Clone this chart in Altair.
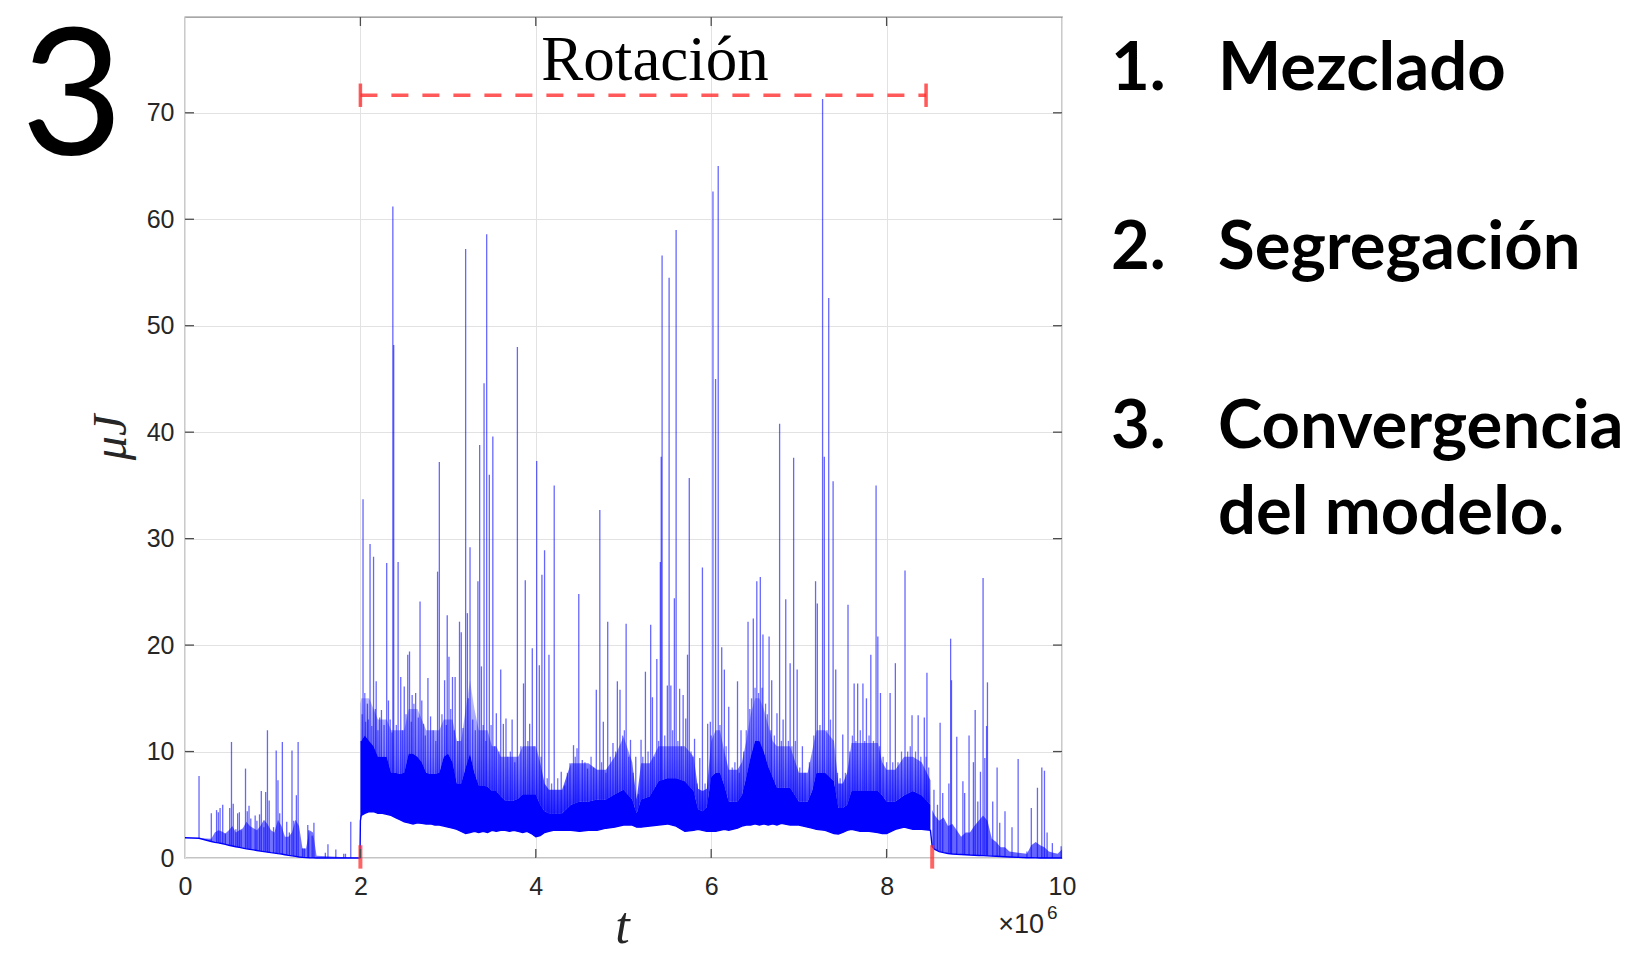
import altair as alt
import numpy as np
import pandas as pd

# ---------------- data (t in units of 10^6) ----------------
x_ticks = [0, 2, 4, 6, 8, 10]
y_ticks = [0, 10, 20, 30, 40, 50, 60, 70]

# before rotation: lower baseline and top of the dense small-line region
p1_t = [0.00, 0.16, 0.30, 0.34, 0.38, 0.42, 0.46, 0.50, 0.54, 0.58, 0.62, 0.66, 0.70, 0.74, 0.78, 0.82, 0.86,
        0.90, 0.94, 0.98, 1.02, 1.06, 1.10, 1.14, 1.18, 1.22, 1.26, 1.30, 1.34, 1.38, 1.42, 1.46, 1.50, 1.995]
p1_lo = [1.90, 1.85, 1.55, 1.47, 1.42, 1.36, 1.28, 1.20, 1.13, 1.06, 1.00, 0.93, 0.86, 0.81, 0.76, 0.70, 0.65,
         0.60, 0.55, 0.50, 0.46, 0.41, 0.37, 0.31, 0.25, 0.20, 0.15, 0.10, 0.06, 0.04, 0.02, 0.01, 0.00, 0.00]
p1_top = [1.90, 1.85, 1.80, 2.4, 2.6, 2.5, 2.3, 2.6, 3.0, 2.4, 2.6, 2.8, 3.4, 3.0, 2.8, 2.6, 3.0,
          3.6, 3.2, 2.6, 2.4, 3.6, 3.0, 2.0, 2.0, 2.4, 3.6, 3.0, 0.9, 0.9, 2.6, 2.4, 0.2, 0.0]

# rotation: lower envelope, top of the solid core and of the dense fuzzy band
band_t = [2.00, 2.01, 2.05, 2.10, 2.15, 2.20, 2.25, 2.30, 2.35, 2.40,
          2.45, 2.50, 2.55, 2.60, 2.65, 2.70, 2.75, 2.80, 2.85, 2.90,
          2.95, 3.00, 3.05, 3.10, 3.15, 3.20, 3.25, 3.30, 3.35, 3.40,
          3.45, 3.50, 3.55, 3.60, 3.65, 3.70, 3.75, 3.80, 3.85, 3.90,
          3.95, 4.00, 4.05, 4.10, 4.15, 4.20, 4.30, 4.40, 4.50, 4.60,
          4.70, 4.80, 4.90, 5.00, 5.10, 5.15, 5.20, 5.30, 5.40, 5.50,
          5.60, 5.70, 5.80, 5.85, 5.90, 5.95, 6.00, 6.05, 6.10, 6.15,
          6.20, 6.30, 6.35, 6.40, 6.45, 6.50, 6.55, 6.60, 6.65, 6.70,
          6.75, 6.80, 6.90, 7.00, 7.10, 7.15, 7.20, 7.30, 7.40, 7.45,
          7.50, 7.55, 7.60, 7.70, 7.80, 7.90, 7.95, 8.00, 8.10, 8.20,
          8.30, 8.40, 8.50]
band_lo = [3.5, 4.0, 4.2, 4.35, 4.35, 4.2, 4.2, 4.1, 4.0, 3.8,
           3.6, 3.4, 3.3, 3.2, 3.3, 3.25, 3.2, 3.2, 3.1, 3.1,
           3.0, 2.9, 2.8, 2.7, 2.5, 2.3, 2.4, 2.5, 2.4, 2.5,
           2.4, 2.6, 2.5, 2.6, 2.6, 2.5, 2.6, 2.5, 2.4, 2.5,
           2.3, 2.0, 2.1, 2.4, 2.5, 2.6, 2.6, 2.6, 2.5, 2.6,
           2.6, 2.8, 2.9, 3.1, 3.1, 2.9, 2.9, 3.0, 3.1, 3.2,
           3.0, 2.5, 2.6, 2.7, 2.6, 2.5, 2.5, 2.5, 2.6, 2.7,
           2.6, 2.8, 3.0, 3.1, 3.1, 3.2, 3.1, 3.2, 3.1, 3.2,
           3.1, 3.25, 3.1, 3.1, 2.9, 2.8, 2.7, 2.6, 2.3, 2.25,
           2.4, 2.6, 2.7, 2.5, 2.5, 2.4, 2.3, 2.3, 2.7, 2.9,
           2.7, 2.7, 2.6]
band_core = [11.0, 11.0, 11.5, 11.0, 10.5, 9.5, 9.5, 9.5, 8.0, 8.0,
             7.9, 8.0, 9.8, 9.8, 9.5, 9.0, 8.0, 7.9, 7.9, 8.0,
             9.5, 9.8, 9.0, 7.0, 7.0, 8.5, 9.8, 8.0, 6.8, 6.8,
             6.7, 6.3, 6.3, 5.8, 5.4, 5.4, 5.4, 5.6, 6.0, 6.0,
             6.0, 6.0, 5.0, 4.4, 4.2, 4.2, 4.2, 5.0, 5.3, 5.3,
             5.5, 5.5, 6.0, 6.4, 5.5, 4.2, 5.5, 5.8, 7.2, 7.5,
             7.5, 7.2, 6.3, 4.6, 4.4, 4.8, 7.6, 8.0, 8.0, 6.8,
             5.3, 5.3, 5.9, 7.6, 9.5, 11.0, 11.0, 10.0, 8.6, 7.6,
             6.6, 6.6, 6.6, 5.3, 5.3, 6.3, 8.0, 8.0, 7.2, 4.7,
             4.7, 5.0, 6.3, 6.3, 6.3, 6.3, 5.9, 5.3, 5.3, 5.9,
             6.3, 5.9, 5.0]
band_fuzz = [14.5, 15.0, 15.0, 15.0, 14.0, 13.0, 13.0, 13.0, 12.0, 12.0,
             12.0, 12.0, 14.0, 14.0, 14.0, 13.0, 12.0, 12.0, 12.0, 12.0,
             13.0, 13.0, 13.0, 11.0, 11.0, 14.0, 16.7, 14.0, 12.0, 12.0,
             12.0, 10.5, 10.5, 9.5, 9.5, 9.5, 9.5, 9.5, 10.5, 10.5,
             10.5, 10.5, 9.0, 7.0, 6.4, 6.4, 6.4, 8.9, 8.9, 8.9,
             8.3, 8.3, 9.5, 11.4, 9.0, 5.5, 8.9, 8.9, 10.5, 10.5,
             10.5, 10.5, 9.5, 6.5, 6.3, 6.5, 11.0, 12.0, 12.0, 10.0,
             8.3, 8.3, 9.0, 11.0, 13.5, 15.0, 15.0, 14.0, 12.5, 11.0,
             10.5, 10.5, 10.5, 8.0, 8.0, 10.0, 12.0, 12.0, 11.0, 7.0,
             7.0, 8.0, 10.8, 10.8, 10.8, 10.8, 9.0, 8.3, 8.3, 9.5,
             9.5, 9.0, 7.3]

# after rotation: decaying baseline and top of the dense small-line region
p3_t = [8.52, 8.55, 8.60, 8.65, 8.70, 8.75, 8.80, 8.85, 8.90, 8.95, 9.00, 9.05, 9.10, 9.15, 9.20,
        9.25, 9.30, 9.35, 9.40, 9.50, 9.60, 9.65, 9.70, 9.75, 9.80, 9.85, 9.90, 9.95, 10.0]
p3_lo = [1.06, 0.80, 0.60, 0.50, 0.42, 0.38, 0.35, 0.33, 0.31, 0.28, 0.26, 0.24, 0.22, 0.20, 0.18,
         0.16, 0.14, 0.12, 0.10, 0.06, 0.03, 0.02, 0.01, 0.0, 0.0, 0.0, 0.0, 0.0, 0.0]
p3_top = [4.5, 4.0, 3.5, 3.8, 3.0, 3.2, 2.6, 2.0, 2.4, 2.4, 3.0, 3.5, 4.0, 3.5, 1.8,
          1.5, 1.0, 1.0, 0.6, 0.5, 0.4, 1.2, 1.5, 1.2, 1.0, 0.6, 0.5, 0.4, 0.8]

# individual spikes (time, peak value)
sp1_t = [0.16, 0.30, 0.36, 0.38, 0.40, 0.43, 0.46, 0.51, 0.53, 0.55, 0.58, 0.60, 0.62, 0.64, 0.69,
         0.71, 0.73, 0.75, 0.80, 0.82, 0.85, 0.87, 0.90, 0.92, 0.94, 0.96, 1.01, 1.04, 1.06, 1.08,
         1.11, 1.16, 1.19, 1.22, 1.24, 1.27, 1.29, 1.34, 1.36, 1.40, 1.41, 1.45, 1.47, 1.60, 1.63,
         1.72, 1.81, 1.83, 1.89]
sp1_h = [7.7, 4.2, 4.5, 4.3, 4.7, 5.0, 2.3, 4.7, 10.9, 5.1, 2.7, 4.2, 4.3, 2.6, 8.4,
         4.4, 4.9, 3.7, 4.0, 3.5, 4.1, 6.3, 2.9, 6.2, 12.0, 5.4, 2.9, 10.1, 7.3, 4.2,
         10.9, 3.4, 2.4, 10.1, 3.5, 5.9, 10.9, 0.9, 0.9, 3.1, 2.6, 2.1, 3.3, 0.5, 1.3,
         0.8, 0.4, 0.4, 3.4]
sp2_t = [2.03, 2.08, 2.11, 2.15, 2.18, 2.24, 2.30, 2.32, 2.37, 2.38,
         2.43, 2.46, 2.50, 2.54, 2.56, 2.59, 2.63, 2.68, 2.70, 2.77,
         2.80, 2.88, 2.90, 2.96, 2.99, 3.01, 3.05, 3.08, 3.13, 3.15,
         3.20, 3.22, 3.25, 3.34, 3.36, 3.38, 3.41, 3.44, 3.47, 3.51,
         3.55, 3.60, 3.63, 3.66, 3.73, 3.79, 3.86, 3.88, 3.93, 3.96,
         4.01, 4.04, 4.07, 4.10, 4.15, 4.21, 4.29, 4.39, 4.43, 4.47,
         4.49, 4.53, 4.59, 4.69, 4.73, 4.77, 4.82, 4.88, 4.93, 4.96,
         5.03, 5.08, 5.14, 5.20, 5.25, 5.31, 5.33, 5.38, 5.42, 5.43, 5.44,
         5.50, 5.52, 5.54, 5.58, 5.60, 5.64, 5.68, 5.71, 5.73, 5.75,
         5.81, 5.87, 5.90, 5.96, 5.99, 6.02, 6.05, 6.08, 6.12, 6.15,
         6.20, 6.30, 6.34, 6.42, 6.48, 6.52, 6.56, 6.59, 6.66, 6.69,
         6.75, 6.78, 6.82, 6.85, 6.90, 6.94, 6.98, 7.04, 7.19, 7.21,
         7.27, 7.29, 7.34, 7.39, 7.42, 7.50, 7.56, 7.63, 7.67, 7.73,
         7.77, 7.82, 7.88, 7.90, 7.93, 8.04, 8.10, 8.21, 8.29, 8.36,
         8.43, 8.46]
sp2_h = [33.7, 14.5, 29.5, 28.3, 16.6, 13.9, 27.7, 14.8, 61.2, 48.2,
         27.8, 17.0, 16.1, 19.1, 19.4, 15.3, 15.5, 24.1, 14.8, 16.9,
         13.3, 26.9, 37.2, 16.7, 22.8, 18.9, 17.0, 17.0, 22.2, 21.2,
         57.2, 23.0, 29.2, 26.0, 38.8, 18.0, 44.6, 58.6, 36.0, 39.6,
         13.6, 17.7, 12.6, 13.1, 13.0, 48.0, 16.4, 26.1, 12.6, 19.7,
         37.3, 18.1, 26.6, 28.9, 19.1, 35.0, 8.1, 8.9, 10.6, 10.3,
         24.8, 9.2, 8.4, 15.8, 32.7, 12.8, 22.2, 10.8, 16.6, 15.8,
         22.0, 11.1, 9.5, 11.1, 17.5, 21.9, 15.1, 18.7, 27.8, 37.7, 56.6,
         16.2, 54.5, 16.2, 24.4, 59.0, 15.9, 15.3, 13.1, 19.1, 35.7,
         11.2, 9.4, 27.3, 12.6, 12.8, 62.6, 45.0, 65.0, 19.8, 17.7,
         14.2, 16.6, 12.0, 22.2, 22.5, 26.0, 26.4, 21.0, 20.8, 16.7,
         13.6, 40.8, 13.0, 24.3, 18.3, 37.6, 17.7, 10.5, 26.0, 23.9,
         71.3, 37.7, 52.6, 35.4, 17.7, 11.6, 23.8, 16.4, 16.4, 16.4,
         15.0, 19.1, 35.0, 20.8, 15.5, 15.5, 18.3, 27.0, 13.4, 13.4,
         13.2, 17.4]
# shorter lines forming the ragged top of the dense band
sm_t = [2.02, 2.05, 2.06, 2.09, 2.13, 2.17, 2.20, 2.22, 2.27, 2.34, 2.36, 2.41, 2.48, 2.52, 2.58,
        2.61, 2.66, 2.72, 2.74, 2.83, 2.86, 2.93, 2.98, 3.03, 3.07, 3.11, 3.17, 3.23, 3.28, 3.31,
        3.40, 3.43, 3.49, 3.53, 3.58, 3.68, 3.71, 3.76, 3.83, 3.91, 3.98, 4.06, 4.13, 4.18, 4.25,
        4.33, 4.36, 4.45, 4.56, 4.63, 4.66, 4.75, 4.80, 4.85, 4.91, 4.99, 5.01, 5.06, 5.11, 5.17,
        5.22, 5.28, 5.35, 5.40, 5.47, 5.56, 5.62, 5.66, 5.77, 5.79, 5.84, 5.93, 6.00, 6.10, 6.17,
        6.24, 6.27, 6.32, 6.37, 6.40, 6.44, 6.46, 6.50, 6.54, 6.58, 6.62, 6.64, 6.68, 6.72, 6.80,
        6.88, 6.92, 6.96, 7.01, 7.07, 7.12, 7.17, 7.24, 7.32, 7.36, 7.44, 7.47, 7.53, 7.58, 7.61,
        7.65, 7.70, 7.75, 7.80, 7.85, 7.92, 7.96, 8.00, 8.07, 8.13, 8.17, 8.24, 8.27, 8.33, 8.39,
        8.45, 8.48]
sm_h = [13.5, 15.5, 12.8, 13.0, 12.4, 14.0, 12.0, 13.2, 12.5, 13.0, 11.8, 12.5, 12.0, 13.5, 12.8,
        14.5, 13.2, 12.6, 11.5, 12.0, 11.0, 13.5, 12.5, 14.0, 12.0, 11.0, 12.2, 15.0, 13.0, 12.0,
        12.5, 11.0, 12.5, 10.5, 10.0, 9.5, 10.0, 9.0, 10.5, 11.0, 10.5, 9.5, 7.5, 7.0, 7.5,
        6.8, 8.0, 9.5, 9.0, 9.5, 8.5, 9.0, 8.0, 9.5, 10.0, 11.5, 12.0, 9.5, 8.0, 6.0,
        9.5, 10.0, 9.5, 11.0, 11.5, 12.0, 11.0, 10.5, 10.0, 9.5, 7.0, 7.0, 11.5, 12.5, 10.5,
        8.5, 9.0, 8.0, 10.0, 12.0, 14.0, 15.0, 16.0, 15.5, 16.0, 14.5, 13.5, 12.0, 11.5, 11.0,
        11.0, 10.5, 11.0, 8.5, 8.0, 9.0, 11.5, 12.5, 12.0, 13.0, 8.0, 7.5, 8.0, 10.0, 11.5,
        11.0, 12.0, 11.0, 11.5, 11.0, 10.5, 9.5, 9.0, 9.0, 9.0, 10.0, 10.0, 10.5, 10.0, 9.5,
        9.5, 8.5]
sp3_t = [8.54, 8.58, 8.61, 8.64, 8.71, 8.73, 8.74, 8.80, 8.87, 8.89, 8.94, 8.99, 9.01, 9.04, 9.07,
         9.10, 9.12, 9.14, 9.15, 9.21, 9.26, 9.29, 9.35, 9.43, 9.50, 9.60, 9.65, 9.72, 9.77, 9.80,
         9.83, 9.89, 9.99]
sp3_h = [6.4, 5.0, 12.7, 6.1, 7.0, 20.6, 16.7, 11.4, 7.2, 6.1, 11.5, 9.0, 13.9, 5.3, 8.1,
         26.3, 9.4, 12.4, 16.5, 5.3, 8.5, 3.3, 4.4, 2.9, 9.3, 0.6, 4.7, 6.6, 8.5, 8.2,
         2.4, 1.4, 1.1]

# rotation annotation
rot_label = "Rotación"
rot_t0, rot_t1, rot_level = 2.0, 8.45, 71.65
rot_label_t, rot_label_y = 5.36, 73.05
cap_lo, cap_hi = 70.55, 72.75
marker_t = [2.0, 8.52]
marker_top, marker_bottom = 1.2, -1.0

# texts
big_label = "3"
list_nums = ["1.", "2.", "3."]
list_items = ["Mezclado", "Segregación", "Convergencia", "del modelo."]
x_title = "t"
y_title = "μJ"
exp_base, exp_power = "×10", "6"

for a, b in [(p1_t, p1_lo), (p1_t, p1_top), (band_t, band_lo), (band_t, band_core), (band_t, band_fuzz),
             (p3_t, p3_lo), (p3_t, p3_top), (sp1_t, sp1_h), (sp2_t, sp2_h), (sm_t, sm_h), (sp3_t, sp3_h)]:
    assert len(a) == len(b), (len(a), len(b))

# ---------------- tables ----------------
env = pd.DataFrame({"t": p1_t + band_t + p3_t, "v": p1_lo + band_lo + p3_lo})
p1 = pd.DataFrame({"t": p1_t, "lo": p1_lo, "hi": p1_top})
band = pd.DataFrame({"t": band_t, "lo": band_lo, "core": band_core, "fuzz": band_fuzz})
p3 = pd.DataFrame({"t": p3_t, "lo": p3_lo, "hi": p3_top})
sp_t = sp1_t + sp2_t + sp3_t
sp_h = sp1_h + sp2_h + sp3_h
spikes = pd.DataFrame({"t": sp_t, "peak": sp_h,
                       "base": np.interp(sp_t, env["t"].values, env["v"].values)})
small = pd.DataFrame({"t": sm_t, "peak": sm_h,
                      "base": np.interp(sm_t, env["t"].values, env["v"].values)})
rot_line = pd.DataFrame({"t0": [rot_t0], "t1": [rot_t1], "lvl": [rot_level]})
rot_caps = pd.DataFrame({"t": [rot_t0, rot_t1], "a": [cap_lo, cap_lo], "b": [cap_hi, cap_hi]})
markers = pd.DataFrame({"t": marker_t, "a": [marker_top] * 2, "b": [marker_bottom] * 2})
rot_text = pd.DataFrame({"s": [rot_label], "t": [rot_label_t], "v": [rot_label_y]})
xt = pd.DataFrame({"t": x_ticks[1:-1]})
yt = pd.DataFrame({"v": y_ticks[1:]})

# ---------------- styling ----------------
W, H = 877, 841
BLUE = "#0000ff"
RED = "#ff3030"
INK = "#262626"
GRID = "#e2e2e2"

xs = alt.Scale(domain=[0, 10], nice=False, zero=False)
ys = alt.Scale(domain=[0, 79], nice=False, zero=False)

x_axis = alt.Axis(values=x_ticks, title=x_title, grid=True, gridColor=GRID, gridWidth=1,
                  ticks=False, tickSize=0, domain=False, labelFlush=False,
                  labelFont="Liberation Sans", labelFontSize=25, labelColor=INK, labelPadding=16,
                  titleFont="Liberation Serif", titleFontStyle="italic", titleFontWeight="normal",
                  titleFontSize=52, titleColor=INK, titleBaseline="alphabetic", titleX=437, titleY=84)
y_axis = alt.Axis(values=y_ticks, title=y_title, grid=True, gridColor=GRID, gridWidth=1,
                  ticks=False, tickSize=0, domain=False, labelFlush=False,
                  labelFont="Liberation Sans", labelFontSize=25, labelColor=INK, labelPadding=11,
                  titleFont="Liberation Serif", titleFontStyle="italic", titleFontWeight="normal",
                  titleFontSize=48, titleColor=INK, titleBaseline="alphabetic", titleX=-60, titleY=420)


def X(f):
    return alt.X(f"{f}:Q", scale=xs, axis=x_axis)


def Y(f):
    return alt.Y(f"{f}:Q", scale=ys, axis=y_axis)


haze = alt.Gradient(gradient="linear", x1=0, x2=0, y1=1, y2=0,
                    stops=[alt.GradientStop(color="rgba(0,0,255,0.85)", offset=0),
                           alt.GradientStop(color="rgba(0,0,255,0.45)", offset=0.45),
                           alt.GradientStop(color="rgba(0,0,255,0.2)", offset=1)])

layers = []
layers.append(alt.Chart(env).mark_line(color=BLUE, strokeWidth=1.4).encode(x=X("t"), y=Y("v")))
layers.append(alt.Chart(p1).mark_area(color=BLUE, opacity=0.55).encode(x=X("t"), y=Y("hi"), y2="lo:Q"))
layers.append(alt.Chart(p3).mark_area(color=BLUE, opacity=0.6).encode(x=X("t"), y=Y("hi"), y2="lo:Q"))
layers.append(alt.Chart(band).mark_area(color=BLUE, opacity=1).encode(x=X("t"), y=Y("core"), y2="lo:Q"))
layers.append(alt.Chart(band).mark_area(color=haze).encode(x=X("t"), y=Y("fuzz"), y2="core:Q"))
layers.append(alt.Chart(small).mark_rule(color=BLUE, strokeWidth=1.3, opacity=0.55).encode(
    x=X("t"), y=Y("peak"), y2="base:Q"))
layers.append(alt.Chart(spikes).mark_rule(color=BLUE, strokeWidth=1.3, opacity=0.6).encode(
    x=X("t"), y=Y("peak"), y2="base:Q"))

# red rotation annotation
layers.append(alt.Chart(rot_line).mark_rule(color=RED, strokeWidth=3.5, opacity=0.8,
                                            strokeDash=[17, 14]).encode(x=X("t0"), x2="t1:Q", y=Y("lvl")))
layers.append(alt.Chart(rot_caps).mark_rule(color=RED, strokeWidth=3.5, opacity=0.8).encode(
    x=X("t"), y=Y("a"), y2="b:Q"))
layers.append(alt.Chart(markers).mark_rule(color=RED, strokeWidth=4, opacity=0.75).encode(
    x=X("t"), y=Y("a"), y2="b:Q"))
layers.append(alt.Chart(rot_text).mark_text(font="Liberation Serif", fontSize=63, color="black",
                                            align="center", baseline="alphabetic").encode(
    x=X("t"), y=Y("v"), text="s:N"))

# inward ticks
TK = "#4d4d4d"
layers.append(alt.Chart(xt).mark_rule(color=TK, strokeWidth=1.3).encode(x=X("t"), y=alt.value(0), y2=alt.value(9)))
layers.append(alt.Chart(xt).mark_rule(color=TK, strokeWidth=1.3).encode(x=X("t"), y=alt.value(H), y2=alt.value(H - 9)))
layers.append(alt.Chart(yt).mark_rule(color=TK, strokeWidth=1.3).encode(y=Y("v"), x=alt.value(0), x2=alt.value(9)))
layers.append(alt.Chart(yt).mark_rule(color=TK, strokeWidth=1.3).encode(y=Y("v"), x=alt.value(W), x2=alt.value(W - 9)))

# exponent label
layers.append(alt.Chart(pd.DataFrame({"s": [exp_base]})).mark_text(
    font="Liberation Sans", fontSize=27, color=INK, align="right", baseline="alphabetic").encode(
    text="s:N", x=alt.value(859), y=alt.value(916)))
layers.append(alt.Chart(pd.DataFrame({"s": [exp_power]})).mark_text(
    font="Liberation Sans", fontSize=19, color=INK, align="left", baseline="alphabetic").encode(
    text="s:N", x=alt.value(862), y=alt.value(902)))

# big slide number
layers.append(alt.Chart(pd.DataFrame({"s": [big_label]})).mark_text(
    font="Lato", fontSize=176, color="black", align="center", baseline="alphabetic").encode(
    text="s:N", x=alt.value(-113), y=alt.value(138)))

# numbered list
num_y = [73, 252, 431]
item_y = [73, 252, 431, 517]
for s, yy in zip(list_nums, num_y):
    layers.append(alt.Chart(pd.DataFrame({"s": [s]})).mark_text(
        font="Lato", fontSize=67, fontWeight="bold", color="black", align="left", baseline="alphabetic").encode(
        text="s:N", x=alt.value(926), y=alt.value(yy)))
for s, yy in zip(list_items, item_y):
    layers.append(alt.Chart(pd.DataFrame({"s": [s]})).mark_text(
        font="Lato", fontSize=67, fontWeight="bold", color="black", align="left", baseline="alphabetic").encode(
        text="s:N", x=alt.value(1033), y=alt.value(yy)))

chart = alt.layer(*layers).properties(
    width=W, height=H,
    autosize=alt.AutoSizeParams(type="none"),
    padding={"left": 177, "top": 9, "right": 565, "bottom": 86},
    background="white",
).configure_view(stroke="#8a8a8a", strokeWidth=1.3)

chart.save("out.html", embed_options={"renderer": "svg", "actions": False})
